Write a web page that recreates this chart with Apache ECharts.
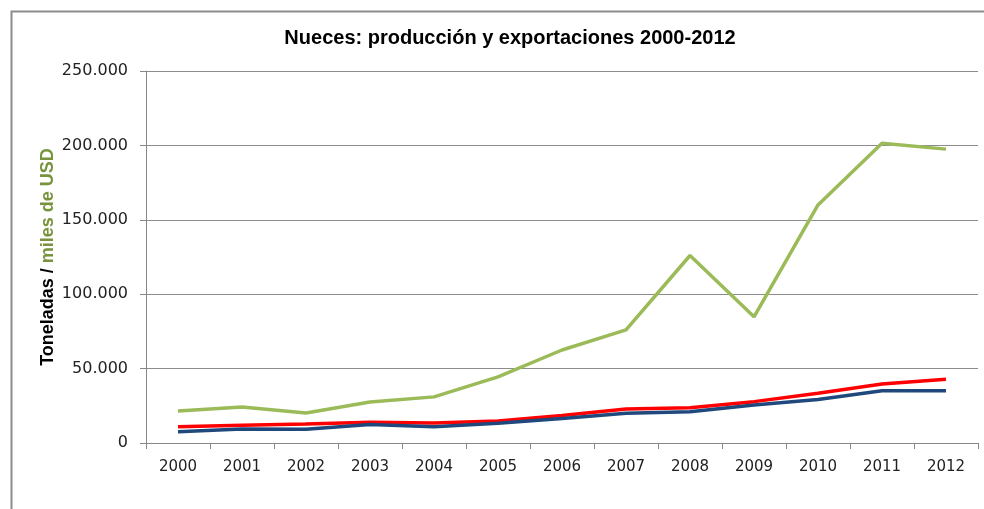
<!DOCTYPE html>
<html>
<head>
<meta charset="utf-8">
<script src="https://cdn.jsdelivr.net/npm/echarts@6/dist/echarts.min.js"></script>
<style>
html,body{margin:0;padding:0;background:#fff;}
#chart{width:984px;height:509px;}
</style>
</head>
<body>
<div id="chart"></div>
<script>
const years = ['2000','2001','2002','2003','2004','2005','2006','2007','2008','2009','2010','2011','2012'];
const exportsUSD = [21500, 24200, 20200, 27500, 31000, 44400, 62500, 76000, 126000, 84800, 160000, 201500, 197500];
const production = [11000, 12000, 12800, 14000, 13500, 14800, 18500, 22800, 23700, 27800, 33400, 39600, 42800];
const exportsTon = [7600, 9400, 9200, 12500, 11000, 13200, 16500, 20000, 21000, 25500, 29300, 35100, 35100];
const yTicks = [0, 50000, 100000, 150000, 200000, 250000];

const chart = echarts.init(document.getElementById('chart'));
const fmt = v => v === 0 ? '0' : String(v).replace(/\B(?=(\d{3})+(?!\d))/g, '.');
chart.setOption({
  animation: false,
  backgroundColor: '#fff',
  graphic: [{
    type: 'rect', left: 9, top: 9, shape: {width: 1000, height: 1000},
    style: {fill: 'none', stroke: '#8c8c8c', lineWidth: 2}, silent: true, z: -1
  }],
  title: {
    text: 'Nueces: producción y exportaciones 2000-2012',
    left: 505, top: 23, textAlign: 'center',
    textStyle: {fontFamily: 'Liberation Sans', fontWeight: 'bold', fontSize: 20, color: '#000'}
  },
  grid: {left: 146, right: 6, top: 71, bottom: 66, containLabel: false},
  xAxis: {
    type: 'category', data: years, boundaryGap: true,
    axisLine: {lineStyle: {color: '#888', width: 1}},
    axisTick: {show: true, interval: 0, length: 6, lineStyle: {color: '#888'}},
    axisLabel: {color: '#222', fontFamily: 'DejaVu Sans', fontSize: 15, margin: 17, interval: 0}
  },
  yAxis: {
    type: 'value', min: yTicks[0], max: yTicks[yTicks.length - 1], interval: 50000,
    name: '{a|Toneladas / }{b|miles de USD}',
    nameLocation: 'middle', nameGap: 89, nameRotate: 90, nameMoveOverlap: false,
    nameTextStyle: {
      rich: {
        a: {fontFamily: 'Liberation Sans', fontWeight: 'bold', fontSize: 18, color: '#000'},
        b: {fontFamily: 'Liberation Sans', fontWeight: 'bold', fontSize: 18, color: '#77933C'}
      }
    },
    axisLine: {show: true, lineStyle: {color: '#888', width: 1}},
    axisTick: {show: true, length: 6, lineStyle: {color: '#888'}},
    splitLine: {lineStyle: {color: '#8c8c8c', width: 1}},
    axisLabel: {color: '#222', fontFamily: 'DejaVu Sans', fontSize: 16, margin: 18, formatter: fmt}
  },
  series: [
    {name: 'Exportaciones (miles USD)', type: 'line', data: exportsUSD, symbol: 'none',
     lineStyle: {color: '#9BBB59', width: 3.5}, itemStyle: {color: '#9BBB59'}, z: 3},
    {name: 'Producción', type: 'line', data: production, symbol: 'none',
     lineStyle: {color: '#FF0000', width: 3.5}, itemStyle: {color: '#FF0000'}, z: 4},
    {name: 'Exportaciones (t)', type: 'line', data: exportsTon, symbol: 'none',
     lineStyle: {color: '#1F497D', width: 3.5}, itemStyle: {color: '#1F497D'}, z: 5}
  ]
});
</script>
</body>
</html>
